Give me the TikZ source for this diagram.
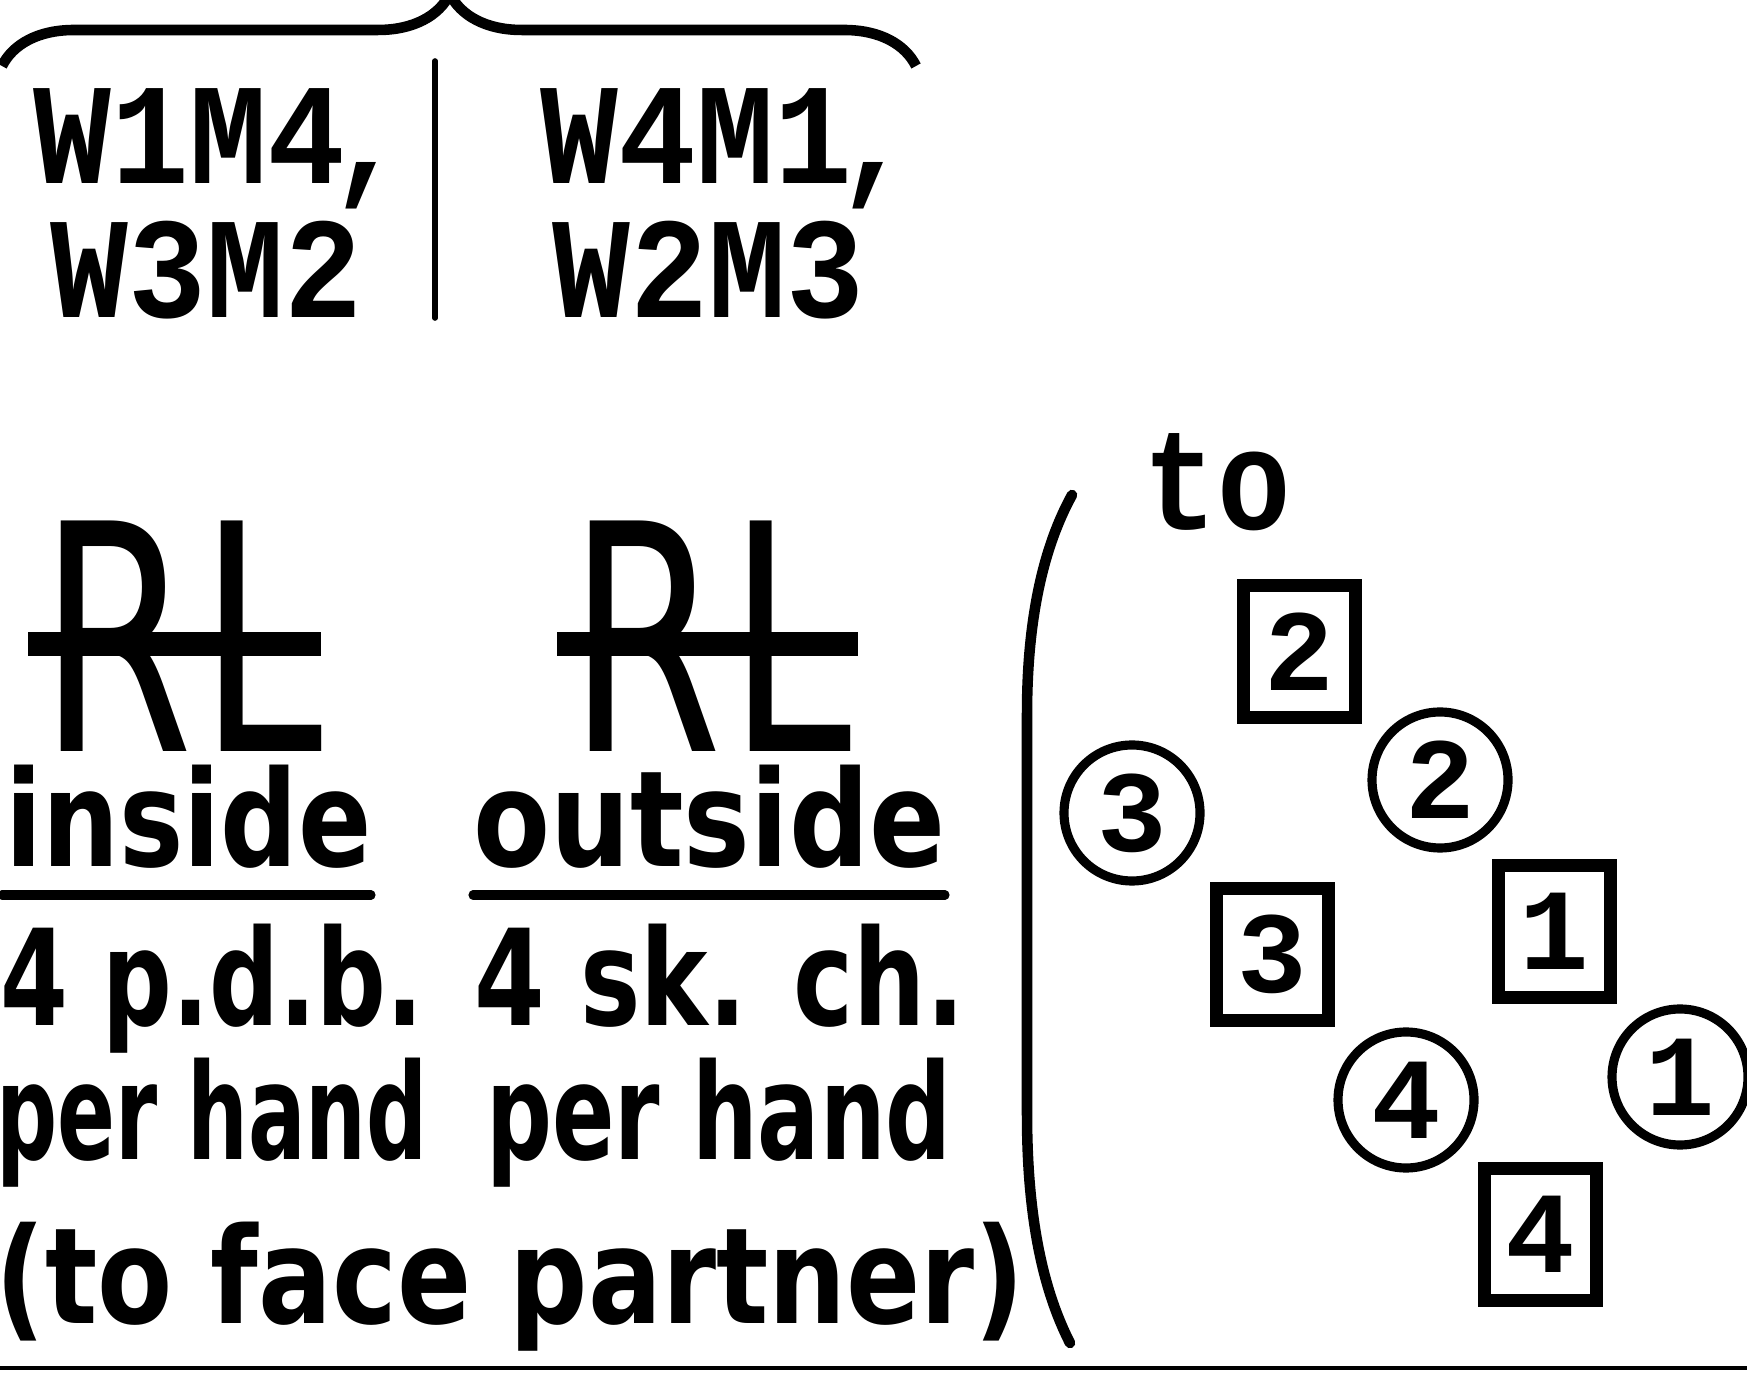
\documentclass[tikz,border=0pt]{standalone}
\usepackage{graphicx}
\usepackage{fontspec}
\setmainfont{DejaVu Sans}
\newfontfamily\tyfont{Liberation Mono}
\usetikzlibrary{decorations.pathreplacing}
\newcommand{\squeeze}[2]{\scalebox{#1}[1]{#2}}

\begin{document}
\begin{tikzpicture}[
    word/.style={inner sep=0pt, anchor=base, font=\fontsize{38}{40}\selectfont\bfseries},
    pair/.style={inner sep=0pt, anchor=base west, text depth=0pt,
      font=\tyfont\fontsize{41}{41}\selectfont\bfseries},
    big/.style={inner sep=0pt, anchor=base west, text depth=0pt,
      font=\fontsize{90}{90}\selectfont},
    sq/.style={draw, line width=3.7pt, minimum width=1.12cm, minimum height=1.32cm,
      inner sep=0pt, font=\tyfont\fontsize{33}{33}\selectfont\bfseries},
    ci/.style={circle, draw, line width=2.6pt, minimum size=1.36cm,
      inner sep=0pt, font=\tyfont\fontsize{33}{33}\selectfont\bfseries},
    uline/.style={line width=2.6pt, line cap=round}]
      \useasboundingbox (0,0) rectangle (17.47,13.74);
      \clip (0,0) rectangle (17.47,13.74);

      % brace over the couples
      \coordinate (br_l) at (0.02,13.08);
      \coordinate (br_r) at (9.16,13.08);
      \draw[line width=3pt, decorate,
        decoration={brace, amplitude=0.72cm, aspect=0.49}] (br_l) -- (br_r);

      \node[pair] (w1m4) at (0.33,11.90) {\squeeze{0.9}{W1M4\kern-0.12em,}};
      \node[pair] (w3m2) at (0.50,10.56) {\squeeze{0.9}{W3M2}};
      \node[pair] (w4m1) at (5.40,11.90) {\squeeze{0.9}{W4M1\kern-0.12em,}};
      \node[pair] (w2m3) at (5.52,10.56) {\squeeze{0.9}{W2M3}};

      \coordinate (sep_t) at (4.35,13.13);
      \coordinate (sep_b) at (4.35,10.56);
      \draw[line width=1.6pt, line cap=round] (sep_t) -- (sep_b);

      % RL signs
      \node[big] (r_in) at (0.39,6.22) {\squeeze{0.7}{R}};
      \node[big] (l_in) at (1.99,6.22) {\squeeze{0.7}{L}};
      \fill (0.28,7.18) rectangle (3.21,7.42);

      \node[big] (r_out) at (5.68,6.22) {\squeeze{0.7}{R}};
      \node[big] (l_out) at (7.28,6.22) {\squeeze{0.7}{L}};
      \fill (5.57,7.18) rectangle (8.58,7.42);

      \node[word] (inside) at (1.885,5.07) {\squeeze{0.81}{inside}};
      \node[word] (outside) at (7.095,5.07) {\squeeze{0.84}{outside}};
      \draw[uline] (0.02,4.79) -- (3.71,4.79);
      \draw[uline] (4.73,4.79) -- (9.45,4.79);

      \node[word] (pdb) at (2.12,3.49) {\squeeze{0.73}{4 p.d.b.}};
      \node[word] (skch) at (7.195,3.49) {\squeeze{0.76}{4 sk. ch.}};
      \node[word] (hand_in) at (2.12,2.15) {\squeeze{0.64}{per hand}};
      \node[word] (hand_out) at (7.19,2.15) {\squeeze{0.69}{per hand}};
      \node[word] (face) at (5.10,0.51) {\squeeze{0.82}{(to face partner)}};

      \draw[line width=1.4pt] (0,0.06) -- (17.47,0.06);

      % bracket and the new places
      \draw[line width=3pt, line cap=round]
        (10.72,8.79) .. controls (10.45,8.3) and (10.27,7.6) .. (10.27,6.6)
        -- (10.27,2.6) .. controls (10.27,1.5) and (10.45,0.8) .. (10.70,0.31);

      \node[pair, anchor=base] (to) at (12.17,8.44) {\squeeze{0.85}{to}};

      \node[sq] (sq2) at (12.995,7.225) {2};
      \node[sq] (sq3) at (12.72,4.195) {3};
      \node[sq] (sq1) at (15.545,4.425) {1};
      \node[sq] (sq4) at (15.405,1.395) {4};

      \node[ci] (ci2) at (14.40,5.94) {2};
      \node[ci] (ci3) at (11.32,5.61) {3};
      \node[ci] (ci4) at (14.06,2.74) {4};
      \node[ci] (ci1) at (16.80,2.97) {1};
\end{tikzpicture}
\end{document}
